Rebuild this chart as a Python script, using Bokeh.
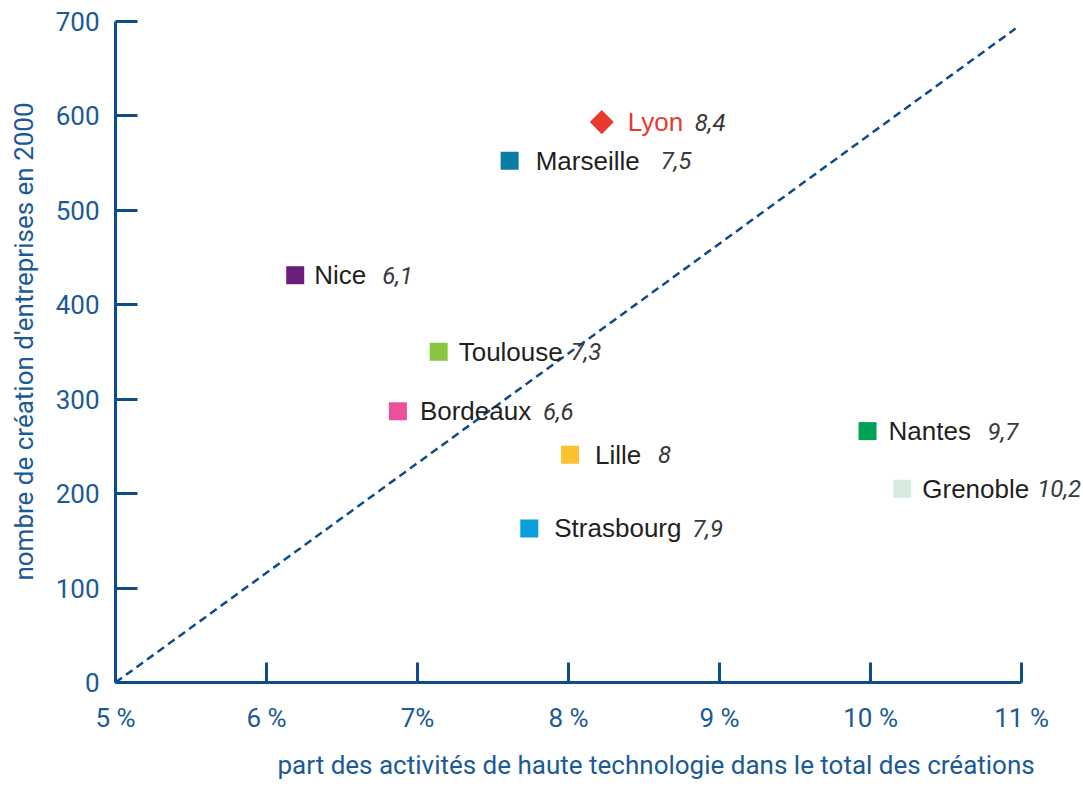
from bokeh.plotting import figure
from bokeh.models import ColumnDataSource, FixedTicker, Range1d, Title
from bokeh.core.properties import value
from bokeh.embed import file_html
from bokeh.resources import INLINE
import math

# ---- data ----
cities = ["Lyon", "Marseille", "Nice", "Toulouse", "Bordeaux", "Lille", "Strasbourg", "Nantes", "Grenoble"]
share_hightech = [8.22, 7.61, 6.19, 7.14, 6.87, 8.01, 7.74, 9.98, 10.21]
creations_2000 = [593, 552, 431, 350, 287, 241, 163, 266, 205]
value_labels = ["8,4", "7,5", "6,1", "7,3", "6,6", "8", "7,9", "9,7", "10,2"]

x_ticks = [5, 6, 7, 8, 9, 10, 11]
x_tick_labels = ["5 %", "6 %", "7%", "8 %", "9 %", "10 %", "11 %"]
y_ticks = [0, 100, 200, 300, 400, 500, 600, 700]

x_title = "part des activités de haute technologie dans le total des créations"
y_title = "nombre de création d'entreprises en 2000"

diag_x = [5, 10.96]
diag_y = [0, 692]

# ---- styles / label layout ----
marker_colors = ["#e63b2e", "#0b7da3", "#6b1f7c", "#8bc540", "#ec4f9b",
                 "#fcc12d", "#0aa0dd", "#00a057", "#d5ebdd"]
markers = ["square"] * 9
angles = [math.pi / 4] + [0] * 8
sizes = [17] + [18] * 8
name_colors = ["#e63b2e"] + ["#231f20"] * 8
name_dx = [26, 26, 19, 20, 22, 25, 25, 21, 20]
num_dx = [93, 151, 87, 132, 145, 88, 163, 120, 135]

AXIS = "#0c4c8a"
TXT = "#1a5a96"

src = ColumnDataSource(dict(
    x=share_hightech, y=creations_2000, name=cities, num=value_labels,
    color=marker_colors, marker=markers, angle=angles, size=sizes,
    name_color=name_colors, name_dx=name_dx, num_dx=num_dx,
))

p = figure(width=1083, height=793, output_backend="svg", toolbar_location=None,
           x_range=Range1d(5, 11.41), y_range=Range1d(0, 721.7),
           min_border_left=115, min_border_right=0, min_border_top=0, min_border_bottom=111)
p.background_fill_color = "white"
p.border_fill_color = "white"
p.outline_line_color = None
p.grid.visible = False

p.line(diag_x, diag_y, line_color=AXIS, line_width=2.5, line_dash="8 5")

p.scatter(x="x", y="y", source=src, marker="marker", size="size", angle="angle",
          fill_color="color", line_color=None)

p.text(x="x", y="y", text="name", source=src, x_offset="name_dx", text_baseline="middle",
       text_align="left", text_font=value("Liberation Sans"), text_font_size="26px",
       text_color="name_color")
p.text(x="x", y="y", text="num", source=src, x_offset="num_dx", text_baseline="middle",
       text_align="left", text_font=value("Roboto"), text_font_size="24px",
       text_font_style="italic", text_color="#3a3a3a")

for ax in (p.xaxis[0], p.yaxis[0]):
    ax.axis_line_color = AXIS
    ax.axis_line_width = 3
    ax.major_tick_line_color = AXIS
    ax.major_tick_line_width = 3
    ax.major_tick_out = 0
    ax.minor_tick_line_color = None
    ax.major_label_text_font = "Roboto"
    ax.major_label_text_font_size = "26px"
    ax.major_label_text_color = TXT
    ax.axis_label_text_font = "Roboto"
    ax.axis_label_text_font_size = "26px"
    ax.axis_label_text_font_style = "normal"
    ax.axis_label_text_color = TXT

p.xaxis.ticker = FixedTicker(ticks=x_ticks)
p.xaxis.major_label_overrides = {t: l for t, l in zip(x_ticks, x_tick_labels)}
p.xaxis.bounds = (5, 11)
p.xaxis.major_tick_in = 20
p.xaxis.major_label_standoff = 20

# x-axis title below the tick labels, offset to the right as in the original
p.add_layout(Title(text=x_title, align="left", offset=162, standoff=24,
                   vertical_align="bottom",
                   text_font="Roboto", text_font_size="26px", text_font_style="normal",
                   text_color=TXT), "below")

p.yaxis.ticker = FixedTicker(ticks=y_ticks)
p.yaxis.bounds = (0, 700)
p.yaxis.major_tick_in = 22
p.yaxis.major_label_standoff = 16
p.yaxis.axis_label = y_title
p.yaxis.axis_label_standoff = 14

open("out.html", "w").write(file_html(p, INLINE))
